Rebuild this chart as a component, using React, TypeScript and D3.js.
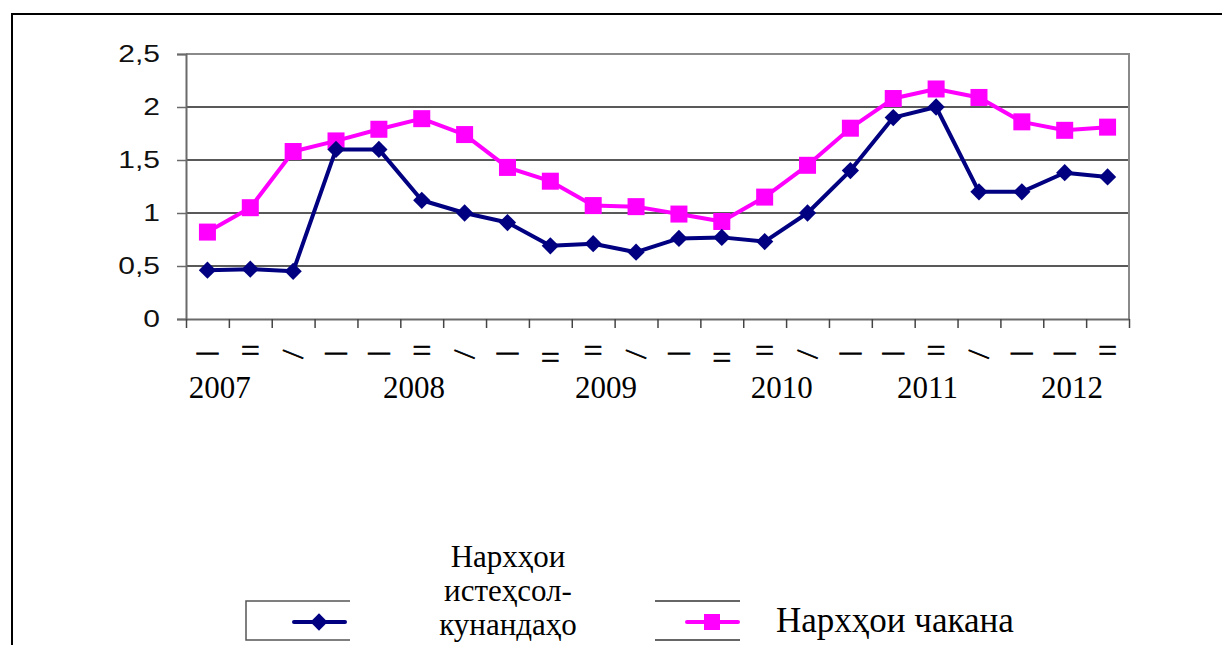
import React, { useEffect, useRef } from 'react';
import * as d3 from 'd3';

// Нархҳо (индекс) ба тариқи семоҳа, 2007–2012
const producerPrices = [0.46, 0.47, 0.45, 1.6, 1.6, 1.12, 1.0, 0.91, 0.69, 0.71, 0.63, 0.76, 0.77, 0.73, 1.0, 1.4, 1.9, 2.0, 1.2, 1.2, 1.38, 1.34];
const retailPrices = [0.82, 1.05, 1.58, 1.68, 1.79, 1.89, 1.74, 1.43, 1.3, 1.07, 1.06, 0.99, 0.92, 1.15, 1.45, 1.8, 2.08, 2.17, 2.09, 1.86, 1.78, 1.81];

// тамғаҳои семоҳа зери тир (чун дар расм)
const quarterMarks = ['—', '=', '\\', '—', '—', '=', '\\', '—', '=_', '=', '\\', '—', '=_', '=', '\\', '—', '—', '=', '\\', '—', '—', '='];
const yearLabels = ['2007', '2008', '2009', '2010', '2011', '2012'];
const yearAt = [0.29, 4.82, 9.3, 13.4, 16.8, 20.17];
const yTicks = [0, 0.5, 1, 1.5, 2, 2.5];

const producerLegend = ['Нархҳои', 'истеҳсол-', 'кунандаҳо'];
const retailLegend = 'Нархҳои чакана';

const W = 1222;
const H = 645;

const App: React.FC = () => {
  const ref = useRef<SVGSVGElement | null>(null);

  useEffect(() => {
    if (!ref.current) return;
    const svg = d3.select(ref.current);
    svg.selectAll('*').remove();

    const left = 186, right = 1129, top = 54, bottom = 319;
    const n = producerPrices.length;

    const x = d3.scaleLinear().domain([0, n]).range([left, right]);
    const y = d3.scaleLinear().domain([0, 2.5]).range([bottom, top]);
    const cx = (i: number) => x(i + 0.5);

    // рамкаи берунӣ
    svg.append('path')
      .attr('d', `M12,${H} L12,14 L${W},14`)
      .attr('fill', 'none')
      .attr('stroke', '#000')
      .attr('stroke-width', 2);

    // хатҳои тӯрӣ
    svg.append('g')
      .selectAll('line')
      .data(yTicks.filter((t) => t > 0 && t < 2.5))
      .enter()
      .append('line')
      .attr('x1', left).attr('x2', right)
      .attr('y1', (d) => y(d)).attr('y2', (d) => y(d))
      .attr('stroke', '#222')
      .attr('stroke-width', 1.3);

    // сарҳади майдон (боло ва рост)
    svg.append('path')
      .attr('d', `M${left},${y(2.5)} L${right},${y(2.5)} L${right},${bottom}`)
      .attr('fill', 'none')
      .attr('stroke', '#8a8a8a')
      .attr('stroke-width', 2);

    // тири Y
    const yAxis = d3.axisLeft(y)
      .tickValues(yTicks)
      .tickSize(9)
      .tickFormat((d) => String(d).replace('.', ','));
    const gy = svg.append('g').attr('transform', `translate(${left},0)`).call(yAxis);
    gy.select('.domain').attr('stroke', '#6a6a6a').attr('stroke-width', 2);
    gy.selectAll('.tick line').attr('stroke', '#6a6a6a').attr('stroke-width', 1.5);
    gy.selectAll('.tick text')
      .attr('x', -20.8)
      .attr('transform', 'scale(1.25,1)')
      .attr('font-family', '"Liberation Sans", Arial, sans-serif')
      .attr('font-size', 24)
      .attr('fill', '#111');

    // тири X
    const xAxis = d3.axisBottom(x)
      .tickValues(d3.range(n + 1))
      .tickSize(9)
      .tickSizeOuter(0)
      .tickFormat(() => '');
    const gx = svg.append('g').attr('transform', `translate(0,${bottom})`).call(xAxis);
    gx.select('.domain').attr('stroke', '#6a6a6a').attr('stroke-width', 2);
    gx.selectAll('.tick line').attr('stroke', '#444').attr('stroke-width', 1.5);

    // тамғаҳои семоҳа
    const qg = svg.append('g')
      .attr('font-family', '"Liberation Serif", "Times New Roman", serif')
      .attr('fill', '#000');
    quarterMarks.forEach((m, i) => {
      const px = cx(i);
      if (m === '—') {
        qg.append('text').attr('x', px).attr('y', 359).attr('text-anchor', 'middle')
          .attr('font-size', 21).attr('stroke', '#000').attr('stroke-width', 1.2).text('—');
      } else if (m === '\\') {
        qg.append('text').attr('x', px).attr('y', 359).attr('text-anchor', 'middle')
          .attr('font-size', 21).attr('stroke', '#000').attr('stroke-width', 0.8)
          .attr('transform', `rotate(22,${px},354)`).text('—');
      } else {
        const dy = m === '=_' ? 7 : 0;
        qg.append('text').attr('x', px).attr('y', 362 + dy).attr('text-anchor', 'middle')
          .attr('font-size', 34).attr('stroke', '#000').attr('stroke-width', 0.5).text('=');
      }
    });

    // солҳо
    svg.append('g')
      .selectAll('text')
      .data(yearLabels)
      .enter()
      .append('text')
      .attr('x', (_, i) => cx(yearAt[i]))
      .attr('y', 398)
      .attr('text-anchor', 'middle')
      .attr('font-family', '"Liberation Serif", "Times New Roman", serif')
      .attr('font-size', 31)
      .attr('fill', '#000')
      .text((d) => d);

    const line = d3.line<number>()
      .x((_, i) => cx(i))
      .y((d) => y(d));

    const navy = '#000080';
    const pink = '#ff00ff';

    // нархҳои чакана
    svg.append('path')
      .datum(retailPrices)
      .attr('fill', 'none')
      .attr('stroke', pink)
      .attr('stroke-width', 4)
      .attr('stroke-linejoin', 'round')
      .attr('d', line);
    svg.append('g')
      .selectAll('rect')
      .data(retailPrices)
      .enter()
      .append('rect')
      .attr('x', (_, i) => cx(i) - 8.5)
      .attr('y', (d) => y(d) - 8.5)
      .attr('width', 17)
      .attr('height', 17)
      .attr('fill', pink);

    // нархҳои истеҳсолкунандаҳо
    svg.append('path')
      .datum(producerPrices)
      .attr('fill', 'none')
      .attr('stroke', navy)
      .attr('stroke-width', 4)
      .attr('stroke-linejoin', 'round')
      .attr('d', line);
    const diamond = d3.symbol().type(d3.symbolDiamond2).size(190);
    svg.append('g')
      .selectAll('path')
      .data(producerPrices)
      .enter()
      .append('path')
      .attr('transform', (d, i) => `translate(${cx(i)},${y(d)})`)
      .attr('d', diamond)
      .attr('fill', navy);

    // легенда
    const lg = svg.append('g');
    lg.append('path')
      .attr('d', 'M350,601 L246,601 L246,640 L350,640')
      .attr('fill', 'none').attr('stroke', '#555').attr('stroke-width', 1.5);
    lg.append('line').attr('x1', 655).attr('x2', 740).attr('y1', 601).attr('y2', 601)
      .attr('stroke', '#333').attr('stroke-width', 1.5);
    lg.append('line').attr('x1', 655).attr('x2', 740).attr('y1', 640).attr('y2', 640)
      .attr('stroke', '#666').attr('stroke-width', 2);

    lg.append('line').attr('x1', 294).attr('x2', 345).attr('y1', 622).attr('y2', 622)
      .attr('stroke', navy).attr('stroke-width', 4).attr('stroke-linecap', 'round');
    lg.append('path').attr('transform', 'translate(319,622)').attr('d', diamond).attr('fill', navy);
    lg.append('line').attr('x1', 687).attr('x2', 738).attr('y1', 622).attr('y2', 622)
      .attr('stroke', pink).attr('stroke-width', 4).attr('stroke-linecap', 'round');
    lg.append('rect').attr('x', 704).attr('y', 614).attr('width', 16).attr('height', 16).attr('fill', pink);

    producerLegend.forEach((p, i) => {
      lg.append('text')
        .attr('x', 508)
        .attr('y', 567 + i * 34)
        .attr('text-anchor', 'middle')
        .attr('font-family', '"Liberation Serif", "Times New Roman", serif')
        .attr('font-size', 31)
        .attr('fill', '#000')
        .text(p);
    });
    lg.append('text')
      .attr('x', 776)
      .attr('y', 632)
      .attr('font-family', '"Liberation Serif", "Times New Roman", serif')
      .attr('font-size', 35)
      .attr('fill', '#000')
      .text(retailLegend);
  }, []);

  return (
    <svg
      ref={ref}
      width={W}
      height={H}
      style={{ position: 'absolute', left: 0, top: 0, background: '#fff' }}
    />
  );
};

export default App;
